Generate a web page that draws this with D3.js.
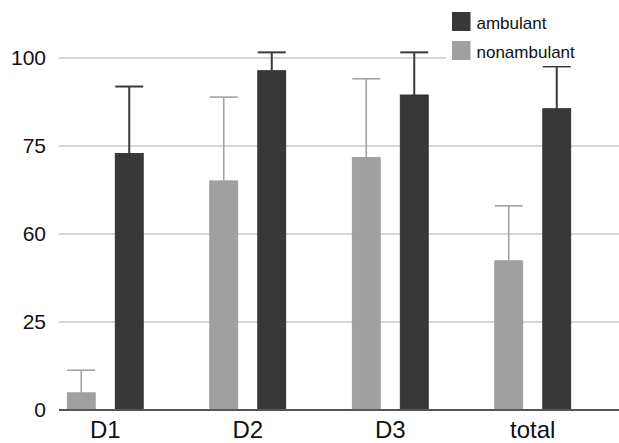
<!DOCTYPE html>
<html>
<head>
<meta charset="utf-8">
<script src="https://cdn.jsdelivr.net/npm/d3@7"></script>
<style>
  html, body { margin: 0; padding: 0; background: #fff; }
  svg { display: block; font-family: "Liberation Sans", Arial, sans-serif; }
</style>
</head>
<body>
<svg id="chart" width="619" height="443"></svg>
<script>
const categories = ["D1", "D2", "D3", "total"];
const seriesNames = ["nonambulant", "ambulant"];
const nonambulant = [4.9, 65.1, 71.7, 42.4];
const nonambulantErr = [11.3, 88.9, 94.1, 58.0];
const ambulant = [72.9, 96.4, 89.5, 85.6];
const ambulantErr = [91.9, 101.6, 101.6, 97.6];
const yTickValues = [0, 25, 50, 75, 100];
const yTickLabels = ["0", "25", "60", "75", "100"];
const legendOrder = ["ambulant", "nonambulant"];

const colors = { ambulant: "#383838", nonambulant: "#a0a0a0" };
const borders = { ambulant: "#2a2a2a", nonambulant: "#999999" };
const errColors = { ambulant: "#3a3a3a", nonambulant: "#a3a3a3" };

const svg = d3.select("#chart");
const plotLeft = 59, plotRight = 619;

const y = d3.scaleLinear().domain([0, 100]).range([410, 58]);
const x0 = d3.scaleBand().domain(categories).range([34, 604]).padding(0);
const x1 = d3.scaleBand().domain(seriesNames)
  .range([x0.bandwidth() / 2 - 38, x0.bandwidth() / 2 + 38])
  .paddingInner(0.4167).paddingOuter(0);

// gridlines
svg.append("g").selectAll("line")
  .data(yTickValues.filter(v => v > 0))
  .join("line")
  .attr("x1", plotLeft).attr("x2", plotRight)
  .attr("y1", d => y(d)).attr("y2", d => y(d))
  .attr("stroke", "#c8c8c8").attr("stroke-width", 1.3);

// y axis labels
const yAxis = d3.axisLeft(y).tickValues(yTickValues)
  .tickFormat((d, i) => yTickLabels[i]).tickSize(0).tickPadding(0);
const yg = svg.append("g").attr("transform", `translate(46,0)`).call(yAxis);
yg.select(".domain").remove();
yg.selectAll("text").attr("font-size", 21).attr("fill", "#111")
  .attr("font-family", "Liberation Sans, Arial, sans-serif");

const data = categories.map((c, i) => ({
  cat: c,
  vals: [
    { s: "nonambulant", v: nonambulant[i], e: nonambulantErr[i] },
    { s: "ambulant", v: ambulant[i], e: ambulantErr[i] }
  ]
}));

const groups = svg.append("g").selectAll("g").data(data).join("g")
  .attr("transform", d => `translate(${x0(d.cat)},0)`);

// error bars (upper whisker only)
groups.selectAll("g.err").data(d => d.vals).join("g").attr("class", "err")
  .each(function(d) {
    const g = d3.select(this);
    const cx = x1(d.s) + x1.bandwidth() / 2;
    const sw = d.s === "ambulant" ? 2 : 1.6;
    g.append("line").attr("x1", cx).attr("x2", cx)
      .attr("y1", y(d.v)).attr("y2", y(d.e))
      .attr("stroke", errColors[d.s]).attr("stroke-width", sw);
    g.append("line").attr("x1", x1(d.s)).attr("x2", x1(d.s) + x1.bandwidth())
      .attr("y1", y(d.e)).attr("y2", y(d.e))
      .attr("stroke", errColors[d.s]).attr("stroke-width", sw);
  });

// bars
groups.selectAll("rect").data(d => d.vals).join("rect")
  .attr("x", d => x1(d.s)).attr("width", x1.bandwidth())
  .attr("y", d => y(d.v)).attr("height", d => y(0) - y(d.v))
  .attr("fill", d => colors[d.s])
  .attr("stroke", d => borders[d.s]).attr("stroke-width", 0.8);

// baseline
svg.append("line").attr("x1", plotLeft).attr("x2", plotRight)
  .attr("y1", y(0)).attr("y2", y(0))
  .attr("stroke", "#555").attr("stroke-width", 2);

// x axis labels
const xAxis = d3.axisBottom(x0).tickSize(0).tickPadding(0);
const xg = svg.append("g").attr("transform", `translate(0,${y(0)})`).call(xAxis);
xg.select(".domain").remove();
xg.selectAll("text").attr("font-size", 24).attr("fill", "#111")
  .attr("dy", null).attr("y", 27.5)
  .attr("font-family", "Liberation Sans, Arial, sans-serif");

// legend
const lg = svg.append("g");
lg.append("rect").attr("x", 446).attr("y", 0).attr("width", 173).attr("height", 66).attr("fill", "#fff");
const li = lg.selectAll("g.item").data(legendOrder).join("g").attr("class", "item")
  .attr("transform", (d, i) => `translate(452,${12 + i * 29})`);
li.append("rect").attr("width", 18.5).attr("height", 19)
  .attr("fill", d => colors[d]);
li.append("text").attr("x", 24.5).attr("y", 16.5)
  .attr("font-size", 17).attr("fill", "#111").text(d => d);
</script>
</body>
</html>
